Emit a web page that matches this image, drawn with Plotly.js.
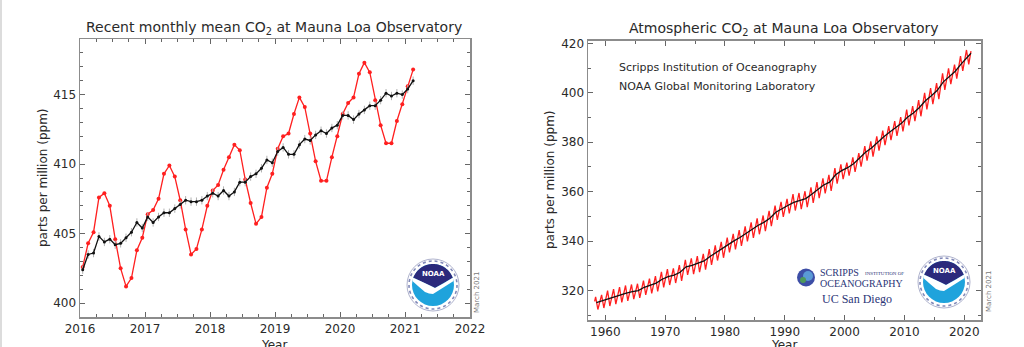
<!DOCTYPE html>
<html><head><meta charset="utf-8">
<script src="https://cdn.plot.ly/plotly-3.0.1.min.js"></script>
<style>html,body{margin:0;padding:0;background:#fff;}#chart{width:1024px;height:347px;}</style>
</head><body><div id="chart"></div>
<script>
// ---- Left panel: recent monthly mean CO2 (Jan 2016 .. Feb 2021) ----
const recentStartYear = 2016;
const monthlyMean = [
  402.6,404.3,405.1,407.6,407.9,407.0,404.6,402.5,401.2,401.8,403.8,404.7,
  406.4,406.7,407.5,409.3,409.9,409.1,407.4,405.3,403.5,403.9,405.3,407.0,
  408.1,408.5,409.6,410.5,411.4,411.0,408.9,407.2,405.7,406.2,408.3,409.3,
  411.1,412.0,412.2,413.6,414.8,414.1,412.2,410.2,408.8,408.8,410.5,412.0,
  413.6,414.4,414.8,416.5,417.3,416.6,414.6,412.8,411.5,411.5,413.1,414.3,
  415.6,416.8];
const deseasonalized = [
  402.4,403.5,403.6,404.8,404.4,404.6,404.2,404.3,404.7,405.1,405.8,405.4,
  406.2,405.8,406.2,406.5,406.5,406.8,407.1,407.4,407.3,407.3,407.4,407.7,
  407.9,407.7,408.1,407.7,408.0,408.7,408.7,409.1,409.3,409.7,410.3,410.1,
  410.9,411.2,410.7,410.7,411.4,411.8,411.7,412.1,412.4,412.2,412.6,412.8,
  413.5,413.5,413.2,413.6,413.9,414.2,414.2,414.6,415.1,414.9,415.1,415.0,
  415.4,416.0];
const deseasonalizedUncert = 0.3;
const leftXTicks = [2016,2017,2018,2019,2020,2021,2022];
const leftYTicks = [400,405,410,415];

// ---- Right panel: full record 1958 .. 2021 ----
const years = [
  1958,1959,1960,1961,1962,1963,1964,1965,1966,1967,
  1968,1969,1970,1971,1972,1973,1974,1975,1976,1977,
  1978,1979,1980,1981,1982,1983,1984,1985,1986,1987,
  1988,1989,1990,1991,1992,1993,1994,1995,1996,1997,
  1998,1999,2000,2001,2002,2003,2004,2005,2006,2007,
  2008,2009,2010,2011,2012,2013,2014,2015,2016,2017,
  2018,2019,2020];
const annualMean = [
  315.2,315.98,316.91,317.64,318.45,318.99,319.62,320.04,321.37,322.18,
  323.05,324.62,325.68,326.32,327.46,329.68,330.19,331.13,332.03,333.84,
  335.41,336.84,338.76,340.12,341.48,343.15,344.87,346.35,347.61,349.31,
  351.69,353.20,354.45,355.70,356.54,357.21,358.96,360.97,362.74,363.88,
  366.84,368.54,369.71,371.32,373.45,375.98,377.70,379.98,382.09,384.02,
  385.83,387.64,390.10,391.85,394.06,396.74,398.81,401.01,404.41,406.76,
  408.72,411.66,414.24];
const mayPeak = [
  317.5,318.3,320.0,320.6,321.4,322.1,322.5,322.8,324.1,324.9,
  325.9,327.6,328.7,329.0,330.3,332.5,333.1,334.0,334.9,336.8,
  338.3,339.7,341.5,343.0,344.5,346.0,347.6,349.2,350.4,352.3,
  354.4,355.9,357.1,359.0,359.5,360.2,361.8,363.9,365.4,366.8,
  369.6,371.1,371.8,373.9,375.6,378.4,380.4,382.4,384.7,386.5,
  388.5,390.2,393.2,394.6,397.0,400.0,401.9,403.9,407.9,409.9,
  411.4,414.8,417.3];
const autumnTrough = [
  312.4,313.0,313.8,314.6,315.3,315.9,316.6,317.1,318.3,318.9,
  319.7,321.3,322.3,323.1,324.0,326.4,326.7,327.5,328.5,330.4,
  332.2,333.3,335.5,336.7,338.1,339.9,341.3,342.8,344.1,346.1,
  348.6,349.8,351.2,352.4,353.0,353.8,355.5,357.4,359.3,360.3,
  363.3,365.1,366.5,368.0,370.1,372.6,374.2,376.6,378.8,380.9,
  382.6,384.4,386.8,388.5,390.5,393.3,395.4,397.4,401.2,403.5,
  405.7,408.8,411.5];
const firstMonth = {year:1958, month:3, value:315.7};
const rightXTicks = [1960,1970,1980,1990,2000,2010,2020];
const rightYTicks = [320,340,360,380,400,420];

// ---- derived series ----
const mid = (y,m) => y + (m-0.5)/12;
const leftX = monthlyMean.map((_,i)=> recentStartYear + (i+0.5)/12);
const lastX = leftX[leftX.length-1];

const redX=[mid(firstMonth.year,firstMonth.month)], redY=[firstMonth.value];
years.forEach((y,i)=>{ redX.push(mid(y,5)); redY.push(mayPeak[i]); redX.push(y+0.75); redY.push(autumnTrough[i]); });
redX.push(lastX); redY.push(monthlyMean[monthlyMean.length-1]);
const trendX = years.map(y=>y+0.5).concat([lastX]);
const trendY = annualMean.concat([deseasonalized[deseasonalized.length-1]]);

const W=1024,H=347;
const PX = x=>x/W, PY = y=>1-y/H;
const FONT = 'DejaVu Sans, sans-serif';
const SERIF = 'Liberation Serif, serif';
const TXT = '#2a2a2a';

const traces = [
  {x:leftX, y:monthlyMean, xaxis:'x', yaxis:'y', mode:'lines+markers',
   line:{color:'#ff1f1f',width:1.3}, marker:{color:'#ff1f1f',size:4}},
  {x:leftX, y:deseasonalized, xaxis:'x', yaxis:'y', mode:'lines+markers',
   line:{color:'#111',width:1.3}, marker:{color:'#111',size:3},
   error_y:{type:'constant',value:deseasonalizedUncert,color:'#b0b0b0',thickness:1,width:0}},
  {x:redX, y:redY, xaxis:'x2', yaxis:'y2', mode:'lines', line:{color:'#ff1f1f',width:1.3}},
  {x:trendX, y:trendY, xaxis:'x2', yaxis:'y2', mode:'lines', line:{color:'#111',width:1.3}}
];

function axisBase(){
  return {ticks:'inside', ticklen:5, tickwidth:1, tickcolor:'#666', showline:true, linecolor:'#8c8c8c',
    linewidth:1.5, mirror:'ticks', showgrid:false, zeroline:false, fixedrange:true,
    tickfont:{family:FONT,size:12,color:TXT}, tickformat:'d'};
}
const xaxis = Object.assign(axisBase(), {domain:[PX(80),PX(470)], range:[2016,2022], anchor:'y',
  tickmode:'array', tickvals:leftXTicks, minor:{dtick:0.25, tick0:2016, ticks:'inside', ticklen:3, tickcolor:'#666', showgrid:false}});
const yaxis = Object.assign(axisBase(), {domain:[PY(317),PY(39)], range:[399,419], anchor:'x',
  tickmode:'array', tickvals:leftYTicks, minor:{dtick:1, tick0:400, ticks:'inside', ticklen:3, tickcolor:'#666', showgrid:false}});
const xaxis2 = Object.assign(axisBase(), {domain:[PX(588),PX(981)], range:[1957.1,2022.8], anchor:'y2',
  tickmode:'array', tickvals:rightXTicks, minor:{dtick:5, tick0:1960, ticks:'inside', ticklen:3, tickcolor:'#666', showgrid:false}});
const yaxis2 = Object.assign(axisBase(), {domain:[PY(320),PY(40.7)], range:[308.15,421.05], anchor:'x2',
  tickmode:'array', tickvals:rightYTicks, minor:{dtick:10, tick0:320, ticks:'inside', ticklen:3, tickcolor:'#666', showgrid:false}});

function ann(text,x,y,opt){
  return Object.assign({text:text, x:PX(x), y:PY(y), xref:'paper', yref:'paper', showarrow:false,
    xanchor:'center', yanchor:'middle', font:{family:FONT,size:12,color:TXT}}, opt||{});
}
const annotations = [
  ann('Recent monthly mean CO<sub>2</sub> at Mauna Loa Observatory',274,28,{font:{family:FONT,size:14,color:TXT}}),
  ann('Atmospheric CO<sub>2</sub> at Mauna Loa Observatory',784,29,{font:{family:FONT,size:14,color:TXT}}),
  ann('parts per million (ppm)',43,178,{textangle:-90,font:{family:FONT,size:12,color:TXT}}),
  ann('parts per million (ppm)',550,180,{textangle:-90,font:{family:FONT,size:12,color:TXT}}),
  ann('Year',274,345,{font:{family:FONT,size:12,color:TXT}}),
  ann('Year',784,345,{font:{family:FONT,size:12,color:TXT}}),
  ann('Scripps Institution of Oceanography',617,67,{xanchor:'left',font:{family:FONT,size:11,color:TXT}}),
  ann('NOAA Global Monitoring Laboratory',617,87,{xanchor:'left',font:{family:FONT,size:11,color:TXT}}),
  ann('March 2021',477,293,{textangle:-90,font:{family:FONT,size:7,color:'#777'}}),
  ann('March 2021',989,292,{textangle:-90,font:{family:FONT,size:7,color:'#777'}}),
  ann('<b>NOAA</b>',433,274,{font:{family:FONT,size:7,color:'#fff'}}),
  ann('<b>NOAA</b>',944,271,{font:{family:FONT,size:7,color:'#fff'}}),
  ann('SCRIPPS',818,272,{xanchor:'left',font:{family:SERIF,size:10,color:'#2b3577'}}),
  ann('INSTITUTION OF',863,273,{xanchor:'left',font:{family:SERIF,size:5,color:'#2b3577'}}),
  ann('OCEANOGRAPHY',818,283,{xanchor:'left',font:{family:SERIF,size:10,color:'#2b3577'}}),
  ann('UC San Diego',820,299,{xanchor:'left',font:{family:SERIF,size:12,color:'#2b3577'}})
];

// ---- logo shapes (pixel-sized, anchored at paper positions) ----
function pshape(cx,cy,o){
  return Object.assign({xref:'paper',yref:'paper',xsizemode:'pixel',ysizemode:'pixel',
    xanchor:PX(cx),yanchor:PY(cy),layer:'above'},o);
}
function circ(cx,cy,r,fill,line){
  return pshape(cx,cy,{type:'circle',x0:-r,x1:r,y0:-r,y1:r,fillcolor:fill,line:line||{width:0}});
}
function noaa(cx,cy){
  const r=21, out=[];
  out.push(circ(cx,cy,26,'#ffffff',{color:'#9aa0c0',width:0.8}));
  out.push(circ(cx,cy,24,'rgba(0,0,0,0)',{color:'#8088b8',width:1.6,dash:'dot'}));
  out.push(circ(cx,cy,r,'#1fa3dc',{width:0}));
  let p='M '+(-r*Math.cos(0.35)).toFixed(2)+' '+(r*Math.sin(0.35)).toFixed(2);
  for(let a=Math.PI-0.35;a>=0.35;a-=0.05){ p+=' L '+(r*Math.cos(a)).toFixed(2)+' '+(r*Math.sin(a)).toFixed(2); }
  p+=' L '+(r*Math.cos(0.35)).toFixed(2)+' '+(r*Math.sin(0.35)).toFixed(2)+' L 2 -3 Z';
  out.push(pshape(cx,cy,{type:'path',path:p,fillcolor:'#2b2a7c',line:{width:0}}));
  out.push(pshape(cx,cy,{type:'path',path:'M -19.7 7.2 Q -6 1 2 -3 Q 10 1 19.7 7.2 L 20.6 4 Q 8 -4 0 -9 Q -4 -9 -8 -7 Q -14 -2 -20.6 4 Z',
    fillcolor:'#ffffff',line:{width:0}}));
  return out;
}
const shapes = [].concat(
  noaa(433,285), noaa(944,282),
  [circ(806,277.5,9,'#3d4ea6',{width:0}), circ(808,276,5,'#5a9ad6',{width:0}), circ(803,280,3,'#4d9a5a',{width:0}),
   {type:'line',xref:'paper',yref:'paper',x0:PX(1),x1:PX(1),y0:0,y1:1,line:{color:'#d0d0d0',width:1.5}}]
);

const layout = {width:W,height:H,margin:{l:0,r:0,t:0,b:0},paper_bgcolor:'#fff',plot_bgcolor:'#fff',
  showlegend:false,xaxis:xaxis,yaxis:yaxis,xaxis2:xaxis2,yaxis2:yaxis2,annotations:annotations,shapes:shapes,
  hovermode:false};
Plotly.newPlot('chart',traces,layout,{staticPlot:true,displayModeBar:false});
</script></body></html>
